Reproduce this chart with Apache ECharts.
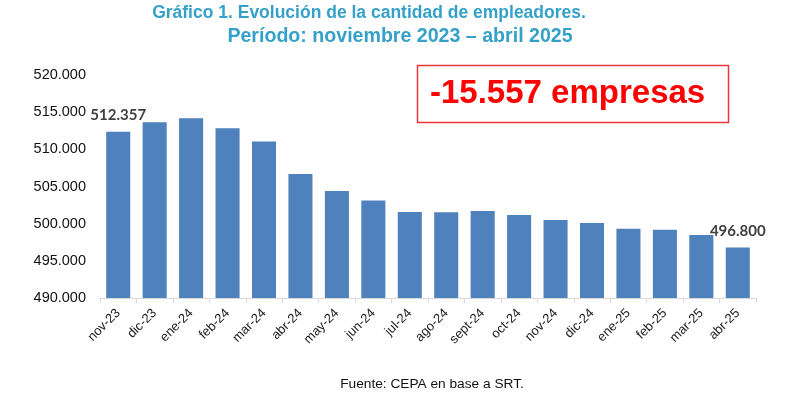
<!doctype html>
<html>
<head>
  <meta charset="utf-8">
  <title>Evolución de la cantidad de empleadores</title>
  <script src="https://cdn.jsdelivr.net/npm/echarts@6/dist/echarts.min.js"></script>
  <style>
    html, body { margin: 0; padding: 0; background: #fff; }
  </style>
</head>
<body>
  <div id="main" style="width:802px;height:397px;"></div>
  <script>
  var meses = ['nov-23', 'dic-23', 'ene-24', 'feb-24', 'mar-24', 'abr-24', 'may-24', 'jun-24', 'jul-24',
    'ago-24', 'sept-24', 'oct-24', 'nov-24', 'dic-24', 'ene-25', 'feb-25', 'mar-25', 'abr-25'];
  var empleadores = [512357, 513640, 514180, 512830, 511040, 506690, 504400, 503100, 501570,
    501530, 501710, 501170, 500500, 500090, 499330, 499190, 498480, 496800];
  var etiquetas = { 0: '512.357', 17: '496.800' };

  function miles(v) {
    return (v / 1000).toFixed(3);
  }

  var myChart = echarts.init(document.getElementById('main'));
  var option = {
    animation: false,
    title: [{
      text: 'Gráfico 1. Evolución de la cantidad de empleadores.',
      left: 364,
      top: -1,
      textAlign: 'center',
      textStyle: {
        color: '#35a1c9',
        fontFamily: 'Liberation Sans',
        fontWeight: 'bold',
        fontSize: 17.5
      }
    }, {
      text: 'Período: noviembre 2023 – abril 2025',
      left: 395,
      top: 22,
      textAlign: 'center',
      textStyle: {
        color: '#35a1c9',
        fontFamily: 'Liberation Sans',
        fontWeight: 'bold',
        fontSize: 19.6
      }
    }, {
      text: 'Fuente: CEPA en base a SRT.',
      left: 427,
      top: 372,
      textAlign: 'center',
      textStyle: {
        color: '#111',
        fontFamily: 'Liberation Sans',
        fontWeight: 'normal',
        fontSize: 13.7
      }
    }],
    graphic: [{
      type: 'rect',
      shape: { x: 417.5, y: 65.5, width: 311, height: 57 },
      style: { fill: '#fff', stroke: '#e8363a', lineWidth: 1.5 }
    }, {
      type: 'text',
      left: 430,
      top: 77,
      style: {
        text: '-15.557 empresas',
        fill: '#ff0000',
        font: 'bold 33px "Liberation Sans"'
      }
    }],
    grid: { left: 100, right: 46, top: 75, bottom: 99 },
    xAxis: {
      type: 'category',
      data: meses,
      axisLine: { lineStyle: { color: '#d9d9d9' } },
      axisTick: { show: true, length: 5, lineStyle: { color: '#d9d9d9' } },
      axisLabel: {
        rotate: 45,
        interval: 0,
        margin: 13,
        color: '#222',
        fontFamily: 'Liberation Sans',
        fontSize: 13
      }
    },
    yAxis: {
      type: 'value',
      min: 490000,
      max: 520000,
      interval: 5000,
      splitLine: { show: false },
      axisLine: { show: false },
      axisTick: { show: false },
      axisLabel: {
        margin: 14,
        color: '#111',
        fontFamily: 'Liberation Sans',
        fontSize: 14.5,
        formatter: miles
      }
    },
    series: [{
      type: 'bar',
      data: empleadores,
      barWidth: '66%',
      itemStyle: { color: '#4f81bd' },
      label: {
        show: true,
        position: 'top',
        distance: 9,
        color: '#404040',
        fontFamily: 'Lato',
        fontWeight: 'bold',
        fontSize: 15,
        formatter: function (p) {
          return etiquetas[p.dataIndex] || '';
        }
      }
    }]
  };
  myChart.setOption(option);
  </script>
</body>
</html>
